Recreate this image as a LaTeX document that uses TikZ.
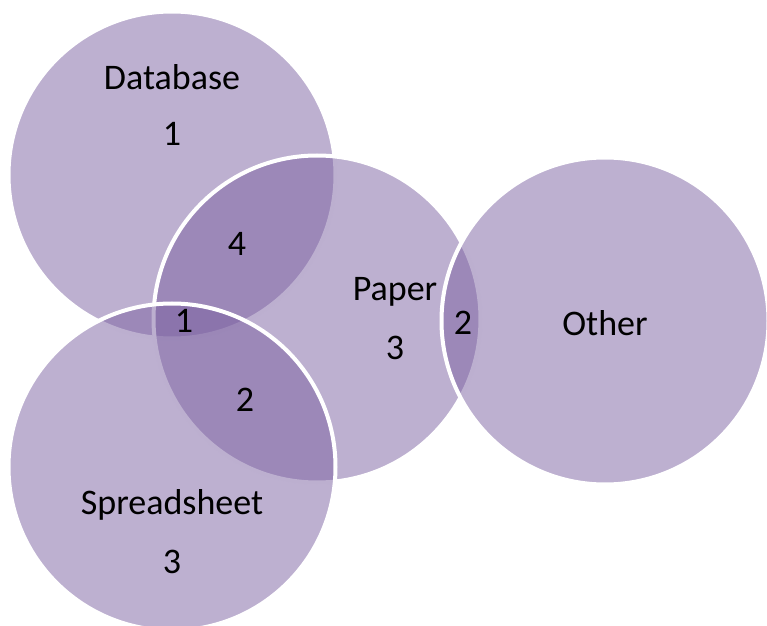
\documentclass[tikz,border=0pt]{standalone}
\usepackage{fontspec}
\setmainfont{Carlito}
\usetikzlibrary{positioning}
\definecolor{vennfill}{RGB}{123,97,161}

\begin{document}
\begin{tikzpicture}[
  x=0.5pt, y=-0.5pt,
  set/.style={circle, minimum size=163.5pt, inner sep=0pt, fill=vennfill, fill opacity=.5, draw=white, line width=2pt},
  lbl/.style={font=\fontsize{18}{21}\selectfont, text=black, inner sep=0pt},
  ]
  \useasboundingbox (0,0) rectangle (767,626);
  \node[set] (Db) at (172,175) {};
  \node[set] (Pa) at (317,319) {};
  \node[set] (Sp) at (172,467) {};
  \node[set] (Ot) at (605,321) {};

  \node[lbl] (DbName) at (172,77) {Database};
  \node[lbl] (DbNum) at (172,134) {1};
  \node[lbl] (PaName) at (395,292) {Paper};
  \node[lbl] (PaNum) at (395,348) {3};
  \node[lbl] (SpName) at (172,505) {Spreadsheet};
  \node[lbl] (SpNum) at (172,562) {3};
  \node[lbl] (OtName) at (605,323) {Other};

  \node[lbl] (DbPa) at (237,244) {4};
  \node[lbl] (DbPaSp) at (184,321) {1};
  \node[lbl] (PaSp) at (245,400) {2};
  \node[lbl] (PaOt) at (463,323) {2};
\end{tikzpicture}
\end{document}
